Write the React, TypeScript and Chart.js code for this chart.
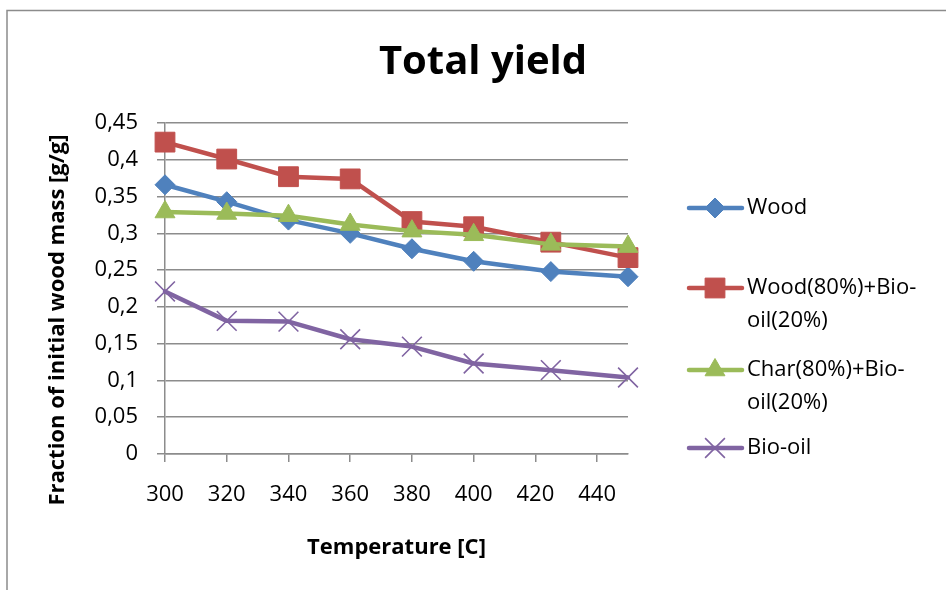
import React, { useEffect, useRef } from 'react';
import { Chart, registerables } from 'chart.js';

Chart.register(...registerables);

// ---- Data ----
const temperatures = [300, 320, 340, 360, 380, 400, 425, 450];
const woodYield = [0.366, 0.343, 0.318, 0.3, 0.279, 0.262, 0.248, 0.241];
const woodBioOilYield = [0.424, 0.401, 0.377, 0.374, 0.316, 0.309, 0.288, 0.267];
const charBioOilYield = [0.329, 0.327, 0.324, 0.312, 0.303, 0.298, 0.285, 0.282];
const bioOilYield = [0.221, 0.181, 0.18, 0.156, 0.146, 0.123, 0.114, 0.104];

const seriesNames = ['Wood', 'Wood(80%)+Bio-oil(20%)', 'Char(80%)+Bio-oil(20%)', 'Bio-oil'];
const legendLines = [['Wood'], ['Wood(80%)+Bio-', 'oil(20%)'], ['Char(80%)+Bio-', 'oil(20%)'], ['Bio-oil']];
const xTickLabels = ['300', '320', '340', '360', '380', '400', '420', '440'];
const yTickLabels = ['0', '0,05', '0,1', '0,15', '0,2', '0,25', '0,3', '0,35', '0,4', '0,45'];

const chartTitle = 'Total yield';
const xTitle = 'Temperature [C]';
const yTitle = 'Fraction of initial wood mass [g/g]';

const FONT = "'Open Sans', 'DejaVu Sans', sans-serif";
const GRID = '#8c8c8c';

function drawMarker(ctx: CanvasRenderingContext2D, style: string, x: number, y: number, r: number, fill: string, stroke: string, bw: number) {
  ctx.save();
  ctx.fillStyle = fill;
  ctx.strokeStyle = stroke;
  ctx.lineWidth = bw;
  ctx.beginPath();
  if (style === 'rectRot') {
    ctx.moveTo(x, y - r);
    ctx.lineTo(x + r, y);
    ctx.lineTo(x, y + r);
    ctx.lineTo(x - r, y);
    ctx.closePath();
    ctx.fill();
    if (bw > 0) ctx.stroke();
  } else if (style === 'rect') {
    const s = r * Math.SQRT1_2;
    ctx.rect(x - s, y - s, 2 * s, 2 * s);
    ctx.fill();
    if (bw > 0) ctx.stroke();
  } else if (style === 'triangle') {
    ctx.moveTo(x, y - r);
    ctx.lineTo(x + r * Math.sin(Math.PI * 2 / 3), y + r * 0.5);
    ctx.lineTo(x - r * Math.sin(Math.PI * 2 / 3), y + r * 0.5);
    ctx.closePath();
    ctx.fill();
    if (bw > 0) ctx.stroke();
  } else if (style === 'crossRot') {
    const d = r * Math.SQRT1_2;
    ctx.moveTo(x - d, y - d);
    ctx.lineTo(x + d, y + d);
    ctx.moveTo(x - d, y + d);
    ctx.lineTo(x + d, y - d);
    ctx.stroke();
  }
  ctx.restore();
}

const decorPlugin = {
  id: 'decor',
  beforeDraw(chart: any) {
    const ctx = chart.ctx as CanvasRenderingContext2D;
    ctx.save();
    ctx.fillStyle = '#ffffff';
    ctx.fillRect(0, 0, chart.width, chart.height);
    ctx.strokeStyle = GRID;
    ctx.lineWidth = 1.5;
    ctx.beginPath();
    ctx.moveTo(7, chart.height);
    ctx.lineTo(7, 10.5);
    ctx.lineTo(chart.width, 10.5);
    ctx.stroke();
    ctx.restore();
  },
  afterDraw(chart: any) {
    const ctx = chart.ctx as CanvasRenderingContext2D;
    // chart title
    ctx.save();
    ctx.fillStyle = '#000';
    ctx.font = `bold 40px ${FONT}`;
    ctx.textAlign = 'center';
    ctx.textBaseline = 'middle';
    ctx.fillText(chartTitle, 483, 63);
    ctx.restore();
    // y axis title
    ctx.save();
    ctx.translate(58, 320);
    ctx.rotate(-Math.PI / 2);
    ctx.fillStyle = '#000';
    ctx.font = `bold 22px ${FONT}`;
    ctx.textAlign = 'center';
    ctx.textBaseline = 'middle';
    ctx.fillText(yTitle, 0, 0);
    ctx.restore();
    // legend
    const rowY = [208, 288, 370, 448];
    chart.data.datasets.forEach((ds: any, i: number) => {
      const y = rowY[i];
      ctx.save();
      ctx.strokeStyle = ds.borderColor;
      ctx.lineWidth = ds.borderWidth;
      ctx.lineCap = 'round';
      ctx.beginPath();
      ctx.moveTo(689, y);
      ctx.lineTo(742, y);
      ctx.stroke();
      ctx.restore();
      drawMarker(ctx, ds.pointStyle, 715, y, ds.pointRadius, ds.pointBackgroundColor, ds.pointBorderColor, ds.pointBorderWidth);
      ctx.save();
      ctx.fillStyle = '#000';
      ctx.font = `22px ${FONT}`;
      ctx.textAlign = 'left';
      ctx.textBaseline = 'middle';
      legendLines[i].forEach((line, j) => ctx.fillText(line, 747, y + j * 33));
      ctx.restore();
    });
  },
};

const styles = [
  { color: '#4F81BD', point: 'rectRot', radius: 10, pbw: 1 },
  { color: '#C0504D', point: 'rect', radius: 14, pbw: 1 },
  { color: '#9BBB59', point: 'triangle', radius: 11.5, pbw: 1 },
  { color: '#8064A2', point: 'crossRot', radius: 14, pbw: 1.6 },
];

export default function App() {
  const ref = useRef<HTMLCanvasElement | null>(null);
  useEffect(() => {
    if (!ref.current) return;
    const seriesValues = [woodYield, woodBioOilYield, charBioOilYield, bioOilYield];
    const datasets = seriesValues.map((vals, i) => ({
      label: seriesNames[i],
      data: vals.map((v, k) => ({ x: temperatures[k], y: v })),
      borderColor: styles[i].color,
      backgroundColor: styles[i].color,
      borderWidth: 4.5,
      borderCapStyle: 'round',
      borderJoinStyle: 'round',
      pointStyle: styles[i].point,
      pointRadius: styles[i].radius,
      pointHoverRadius: styles[i].radius,
      pointBackgroundColor: styles[i].color,
      pointBorderColor: styles[i].color,
      pointBorderWidth: styles[i].pbw,
      tension: 0,
      clip: false,
      order: 4 - i,
      fill: false,
    }));
    const chart = new Chart(ref.current, {
      type: 'line',
      data: { datasets } as any,
      plugins: [decorPlugin],
      options: {
        animation: false,
        responsive: true,
        maintainAspectRatio: false,
        layout: { padding: { left: 0, right: 318, top: 123, bottom: 0 } },
        plugins: {
          legend: { display: false },
          tooltip: { enabled: false },
          title: { display: false },
        },
        scales: {
          x: {
            type: 'linear',
            min: 300,
            max: 450,
            afterFit: (s: any) => { s.height = 136; },
            ticks: {
              stepSize: 20,
              includeBounds: false,
              autoSkip: false,
              maxRotation: 0,
              padding: 20,
              color: '#000',
              font: { family: FONT, size: 22 },
              callback: (_v: any, idx: number) => xTickLabels[idx] ?? '',
            },
            grid: { display: true, drawOnChartArea: false, drawTicks: true, tickLength: 8, color: GRID, lineWidth: 1.5 },
            border: { display: true, color: GRID, width: 1.5 },
            title: {
              display: true,
              text: xTitle,
              color: '#000',
              font: { family: FONT, size: 22, weight: 'bold' },
              padding: { top: 0, bottom: 29 },
            },
          },
          y: {
            min: 0,
            max: 0.45,
            afterFit: (s: any) => { s.width = 165; },
            ticks: {
              stepSize: 0.05,
              padding: 19,
              color: '#000',
              font: { family: FONT, size: 22 },
              callback: (v: any) => yTickLabels[Math.round(Number(v) / 0.05)] ?? '',
            },
            grid: { color: GRID, lineWidth: 1.5, tickLength: 8, drawTicks: true },
            border: { display: true, color: GRID, width: 1.5 },
          },
        },
      } as any,
    });
    return () => chart.destroy();
  }, []);
  return (
    <div style={{ position: 'fixed', left: 0, top: 0, width: 946, height: 590, background: '#fff' }}>
      <canvas ref={ref} style={{ display: 'block', width: '100%', height: '100%' }} />
    </div>
  );
}
